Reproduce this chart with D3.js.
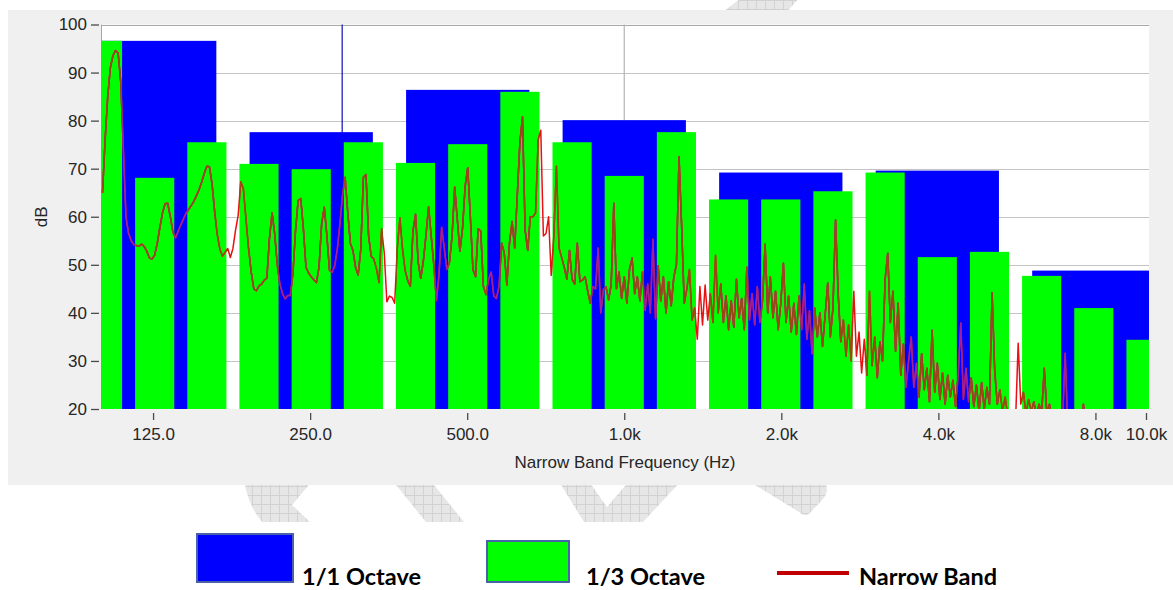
<!DOCTYPE html>
<html>
<head>
<meta charset="utf-8">
<script src="https://cdn.jsdelivr.net/npm/d3@7"></script>
<style>
  html, body { margin: 0; padding: 0; background: #ffffff; }
  svg { display: block; }
  .axis text { font-family: "Liberation Sans", Arial, sans-serif; font-size: 17px; fill: #262626; }
  .axis line { stroke: #4a4a4a; }
  .axis path { display: none; }
</style>
</head>
<body>
<svg id="chart" width="1173" height="590"></svg>
<script>
// 1/1 octave bands (exact base-10 mid-band frequencies, Hz) and their levels (dB)
const octaveCenters = [125.9, 251.2, 501.2, 1000, 1995.3, 3981.1, 7943.3];
const octaveLevels  = [96.6, 77.6, 86.4, 80.1, 69.2, 69.6, 48.8];

// 1/3 octave bands, 100 Hz .. 10 kHz
const thirdCenters = [100, 125.9, 158.5, 199.5, 251.2, 316.2, 398.1, 501.2, 631.0, 794.3,
                      1000, 1258.9, 1584.9, 1995.3, 2511.9, 3162.3, 3981.1, 5011.9, 6309.6, 7943.3, 10000];
const thirdLevels  = [96.6, 68.1, 75.5, 71.0, 69.9, 75.5, 71.2, 75.1, 86.0, 75.5,
                      68.5, 77.6, 63.6, 63.6, 65.3, 69.2, 51.6, 52.7, 47.7, 41.0, 34.4];

// x axis ticks and labels
const freqTicks  = [125, 250, 500, 1000, 2000, 4000, 8000, 10000];
const freqLabels = ["125.0", "250.0", "500.0", "1.0k", "2.0k", "4.0k", "8.0k", "10.0k"];
const dbTicks    = [20, 30, 40, 50, 60, 70, 80, 90, 100];

// narrow band spectrum: levels (dB) on a log frequency grid starting at 100 Hz,
// 200 lines per decade
const nbStartHz = 100;
const nbLinesPerDecade = 200;
const nbLevels = [
  65, 76, 85, 91, 93.5, 94.6, 94.0, 88, 74, 60, 56.5, 55, 54.2, 54.0, 53.9, 54.3, 53.8, 52.8, 51.4, 51.2,
  52.0, 54.5, 57.8, 60.8, 62.7, 62.8, 60.0, 56.8, 55.6, 57.0, 58.3, 59.5, 60.7, 61.5, 62.3, 63.2, 64.4, 65.6, 67.2, 69.0,
  70.5, 70.4, 66.8, 61.0, 56.3, 53.2, 51.8, 52.6, 53.4, 51.5, 53.4, 57.2, 60.3, 67.3, 65.8, 59.5, 53.3, 48.5, 45.0, 44.6,
  45.6, 46.0, 46.8, 47.2, 55.5, 60.8, 56.5, 50.0, 46.0, 44.0, 42.9, 43.6, 43.6, 48.2, 57.2, 63.4, 63.8, 57.5, 49.5, 48.3,
  47.5, 46.9, 46.3, 49.5, 58.5, 62.0, 56.2, 48.9, 48.4, 49.8, 53.2, 58.5, 64.5, 68.2, 61.0, 54.5, 53.0, 49.5, 47.9, 53.2,
  68.2, 68.8, 56.0, 51.8, 51.2, 49.2, 46.3, 57.5, 52.5, 42.3, 43.5, 43.2, 42.0, 53.5, 59.8, 53.3, 48.8, 46.7, 45.5, 57.0,
  60.5, 50.5, 47.2, 50.8, 56.2, 62.1, 56.0, 50.0, 42.5, 48.0, 57.8, 53.5, 49.0, 50.5, 56.0, 66.2, 59.5, 52.8, 57.5, 66.3,
  70.2, 60.0, 49.0, 47.5, 57.5, 57.0, 45.5, 43.8, 47.0, 48.5, 43.5, 43.0, 45.5, 54.5, 52.5, 45.8, 54.5, 59.0, 53.5, 64.5,
  75.5, 80.8, 57.2, 53.0, 60.0, 60.0, 60.8, 76.0, 78.0, 56.0, 56.5, 60.0, 47.8, 56.0, 70.5, 53.5, 51.5, 49.5, 47.0, 53.0,
  47.0, 46.0, 54.5, 46.5, 46.8, 47.5, 44.5, 42.0, 45.5, 45.0, 53.5, 40.0, 44.8, 45.4, 42.7, 46.0, 62.8, 45.0, 48.5, 43.0,
  47.5, 42.0, 49.0, 51.4, 44.0, 47.5, 42.5, 48.5, 40.5, 46.0, 40.0, 55.3, 38.8, 49.8, 42.5, 47.5, 40.0, 46.5, 41.5, 47.5,
  50.0, 72.5, 58.0, 42.0, 45.0, 49.0, 38.5, 41.0, 34.5, 45.5, 37.5, 45.8, 38.5, 44.0, 38.0, 52.0, 40.0, 46.0, 38.0, 43.5,
  36.5, 42.5, 37.0, 47.0, 39.0, 43.0, 36.5, 49.5, 38.5, 44.0, 37.5, 45.5, 38.0, 42.5, 54.3, 40.0, 47.5, 39.0, 44.5, 36.5,
  42.0, 50.3, 38.0, 43.5, 36.0, 42.0, 35.5, 43.5, 36.5, 46.0, 34.5, 40.5, 31.5, 41.0, 35.0, 40.0, 33.0, 39.5, 46.2, 35.0,
  41.0, 59.3, 44.0, 34.0, 38.5, 31.0, 37.5, 30.0, 44.5, 31.0, 36.0, 27.5, 34.5, 27.0, 44.5, 29.0, 35.0, 26.5, 34.0, 30.0,
  47.0, 52.4, 38.0, 44.5, 32.0, 42.0, 27.0, 33.5, 24.5, 30.0, 35.0, 24.5, 29.5, 22.5, 31.5, 24.0, 28.5, 21.5, 36.4, 23.5,
  29.5, 22.0, 27.5, 21.0, 27.0, 22.5, 26.0, 20.5, 27.0, 37.9, 22.0, 28.5, 21.5, 26.5, 20.5, 25.0, 19.5, 25.5, 20.0, 24.5,
  21.0, 44.2, 28.0, 21.0, 24.0, 19.5, 22.5, 18.5, 17.0, 18.0, 17.5, 33.7, 21.0, 23.5, 19.0, 22.0, 19.5, 21.5, 18.5, 21.0,
  19.0, 28.5, 19.0, 21.0, 18.0, 17.5, 16.5, 18.0, 17.0, 31.6, 17.0, 16.0, 17.5, 16.0, 17.0, 16.5, 21.0, 16.0, 15.5, 16.0, 15.0
];

// cursor and reference grid frequencies
const cursorHz = 288;
const vGridHz = [1000];

const svg = d3.select("#chart");
const plot = { left: 101, right: 1149, top: 24.5, bottom: 409 };

const x = d3.scaleLog().domain([100, 10000]).range([102.5, 1146]);
const y = d3.scaleLinear().domain([20, 100]).range([plot.bottom, plot.top]);

const defs = svg.append("defs");

// grey grid texture for the background emblem
const pat = defs.append("pattern").attr("id", "hatch")
  .attr("patternUnits", "userSpaceOnUse").attr("width", 9).attr("height", 9);
pat.append("rect").attr("width", 9).attr("height", 9).attr("fill", "#e6e6e6");
pat.append("path").attr("d", "M0 0.5H9M0.5 0V9").attr("stroke", "#d2d2d2").attr("stroke-width", 1);

defs.append("clipPath").attr("id", "plotClip").append("rect")
  .attr("x", plot.left).attr("y", plot.top)
  .attr("width", plot.right - plot.left).attr("height", plot.bottom - plot.top);

// background emblem fragments (only their edges show around the chart panel)
const emblem = svg.append("g").attr("fill", "url(#hatch)");
[
  "M723,12 L741,-2 L799,-2 L787,12 Z",
  "M244,480 L313,480 L292,505 L310,522 L262,522 Q248,505 244,480 Z",
  "M392,480 L430,480 L464,522 L426,522 Z",
  "M558,480 L588,480 L607,507 L630,480 L682,480 L643,522 L584,522 Z",
  "M747,480 L825,480 Q830,492 822,500 L810,513 Q805,518 799,512 Z"
].forEach(d => emblem.append("path").attr("d", d));

// chart panel
svg.append("rect").attr("x", 8).attr("y", 10).attr("width", 1165).attr("height", 475).attr("fill", "#f0f0f0");
svg.append("rect").attr("x", plot.left).attr("y", plot.top)
  .attr("width", plot.right - plot.left).attr("height", plot.bottom - plot.top).attr("fill", "#ffffff");

// horizontal grid
svg.append("g").selectAll("line").data(dbTicks.filter(d => d > 20)).join("line")
  .attr("x1", plot.left).attr("x2", plot.right)
  .attr("y1", d => Math.round(y(d)) + 0.5).attr("y2", d => Math.round(y(d)) + 0.5)
  .attr("stroke", d => d === 100 ? "#a8a8a8" : "#c4c4c4").attr("stroke-width", 1.2);

// vertical grid + cursor
svg.append("g").selectAll("line").data(vGridHz).join("line")
  .attr("x1", d => x(d)).attr("x2", d => x(d)).attr("y1", plot.top).attr("y2", plot.bottom)
  .attr("stroke", "#b4b4b4").attr("stroke-width", 1.2);
svg.append("line").attr("x1", plot.left + 0.5).attr("x2", plot.left + 0.5)
  .attr("y1", plot.top).attr("y2", plot.bottom).attr("stroke", "#a8a8a8");
svg.append("line").attr("x1", x(cursorHz)).attr("x2", x(cursorHz))
  .attr("y1", plot.top).attr("y2", plot.bottom).attr("stroke", "#2020c0").attr("stroke-width", 1.3);

// band geometry
const thirdHalf = 0.75 * 0.1 / 2;              // decades, half of drawn bar width
const octHalf   = 0.785 * Math.log10(2) / 2;
const octData   = octaveCenters.map((c, i) => ({ c, v: octaveLevels[i] }));
const thirdData = thirdCenters.map((c, i) => ({ c, v: thirdLevels[i] }));
const barX = (c, h) => x(c / Math.pow(10, h));
const barW = (c, h) => x(c * Math.pow(10, h)) - x(c / Math.pow(10, h));

const bars = svg.append("g").attr("clip-path", "url(#plotClip)");
bars.selectAll("rect.oct").data(octData).join("rect").attr("class", "oct")
  .attr("x", d => barX(d.c, octHalf)).attr("width", d => barW(d.c, octHalf))
  .attr("y", d => y(d.v)).attr("height", d => y(20) - y(d.v)).attr("fill", "#0000ff");
bars.selectAll("rect.third").data(thirdData).join("rect").attr("class", "third")
  .attr("x", d => barX(d.c, thirdHalf)).attr("width", d => barW(d.c, thirdHalf))
  .attr("y", d => y(d.v)).attr("height", d => y(20) - y(d.v)).attr("fill", "#00ff00");

// clip regions used to tint the trace where it crosses the bars
const blueClip = defs.append("clipPath").attr("id", "blueClip");
blueClip.selectAll("rect").data(octData).join("rect")
  .attr("x", d => barX(d.c, octHalf)).attr("width", d => barW(d.c, octHalf))
  .attr("y", d => y(d.v)).attr("height", d => y(20) - y(d.v));
const greenClip = defs.append("clipPath").attr("id", "greenClip");
greenClip.selectAll("rect").data(thirdData).join("rect")
  .attr("x", d => barX(d.c, thirdHalf)).attr("width", d => barW(d.c, thirdHalf))
  .attr("y", d => y(d.v)).attr("height", d => y(20) - y(d.v));

// narrow band trace
const nb = nbLevels.map((db, i) => ({ f: nbStartHz * Math.pow(10, i / nbLinesPerDecade), db }));
const line = d3.line().x(d => x(d.f)).y(d => y(d.db));
const traceG = svg.append("g").attr("clip-path", "url(#plotClip)");
const trace = (g, color) => g.append("path").attr("d", line(nb)).attr("fill", "none")
  .attr("stroke", color).attr("stroke-width", 1.5).attr("stroke-linejoin", "round");
trace(traceG, "#e81010");
trace(traceG.append("g").attr("clip-path", "url(#blueClip)"), "#a0209a");
trace(traceG.append("g").attr("clip-path", "url(#greenClip)"), "#984a10");

// axes
const yAxis = svg.append("g").attr("class", "axis").attr("transform", `translate(${plot.left - 2},0)`)
  .call(d3.axisLeft(y).tickValues(dbTicks).tickSize(8).tickPadding(4).tickFormat(d3.format("d")));
yAxis.selectAll("line").attr("stroke-width", 1.3);

const xAxis = svg.append("g").attr("class", "axis").attr("transform", `translate(0,${plot.bottom + 4})`)
  .call(d3.axisBottom(x).tickValues(freqTicks).tickSize(7).tickPadding(8)
    .tickFormat((d, i) => freqLabels[i]));
xAxis.selectAll("line").attr("stroke-width", 1.3);

svg.append("text").attr("x", (plot.left + plot.right) / 2).attr("y", 468)
  .attr("text-anchor", "middle")
  .style("font-family", "'Liberation Sans', Arial, sans-serif").style("font-size", "17px").style("fill", "#262626")
  .text("Narrow Band Frequency (Hz)");
svg.append("text").attr("transform", `translate(47,${(plot.top + plot.bottom) / 2}) rotate(-90)`)
  .attr("text-anchor", "middle")
  .style("font-family", "'Liberation Sans', Arial, sans-serif").style("font-size", "17px").style("fill", "#262626")
  .text("dB");

// legend
const legendFont = "Lato, 'Liberation Sans', sans-serif";
const lg = svg.append("g");
lg.append("rect").attr("x", 197).attr("y", 534).attr("width", 96).attr("height", 48)
  .attr("fill", "#0000ff").attr("stroke", "#4a62a8").attr("stroke-width", 2);
lg.append("rect").attr("x", 487).attr("y", 541).attr("width", 82).attr("height", 41)
  .attr("fill", "#00ff00").attr("stroke", "#4a62a8").attr("stroke-width", 2);
lg.append("line").attr("x1", 777).attr("x2", 849).attr("y1", 573).attr("y2", 573)
  .attr("stroke", "#c00000").attr("stroke-width", 4);
[["1/1 Octave", 302], ["1/3 Octave", 586], ["Narrow Band", 859]].forEach(([t, lx]) => {
  lg.append("text").attr("x", lx).attr("y", 585).text(t)
    .style("font-family", legendFont).style("font-weight", "700").style("font-size", "23.5px").style("fill", "#000");
});
</script>
</body>
</html>
